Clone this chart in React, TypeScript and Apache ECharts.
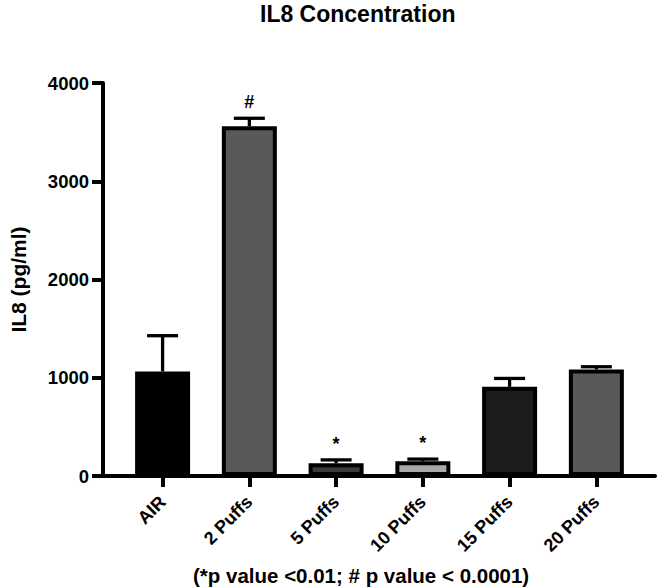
import React, { useEffect, useRef } from "react";
import * as echarts from "echarts";

const categories = ["AIR", "2 Puffs", "5 Puffs", "10 Puffs", "15 Puffs", "20 Puffs"];
const means = [1064, 3561, 130, 150, 908, 1085];
const errors = [364, 80, 34, 22, 85, 27];
const annotations = ["", "#", "*", "*", "", ""];
const barColors = ["#000000", "#595959", "#3a3a3a", "#a9a9a9", "#1c1c1c", "#595959"];
const yTicks = [0, 1000, 2000, 3000, 4000];

const FONT = "Liberation Sans, Arial, Helvetica, sans-serif";

export default function App() {
  const ref = useRef<HTMLDivElement>(null);
  useEffect(() => {
    if (!ref.current) return;
    const chart = echarts.init(ref.current, null, { renderer: "svg" });
    const idx = categories.map((_, i) => i);
    chart.setOption({
      animation: false,
      backgroundColor: "#ffffff",
      title: [
        {
          text: "IL8 Concentration",
          left: 255,
          top: -3,
          textStyle: { fontFamily: FONT, fontWeight: "bold", fontSize: 23, color: "#000" },
        },
        {
          text: "(*p value <0.01; # p value < 0.0001)",
          left: 188,
          top: 560,
          textStyle: { fontFamily: FONT, fontWeight: "bold", fontSize: 20.5, color: "#000" },
        },
      ],
      grid: { left: 90, right: 2, top: 83, bottom: 111, containLabel: false },
      xAxis: {
        type: "value",
        min: -0.687,
        max: 5.676,
        splitLine: { show: false },
        axisLine: { show: true, onZero: false, lineStyle: { color: "#000", width: 4 } },
        axisTick: { show: true, customValues: idx, length: 11, lineStyle: { color: "#000", width: 4 } },
        axisLabel: {
          customValues: idx,
          rotate: 45,
          margin: 23,
          formatter: (v: number) => categories[Math.round(v)] ?? "",
          fontFamily: FONT,
          fontWeight: "bold",
          fontSize: 18,
          color: "#000",
        },
      },
      yAxis: {
        type: "value",
        min: 0,
        max: 4000,
        interval: 1000,
        name: "IL8 (pg/ml)",
        nameLocation: "middle",
        nameRotate: 90,
        nameGap: 74,
        nameTextStyle: { fontFamily: FONT, fontWeight: "bold", fontSize: 21, color: "#000" },
        splitLine: { show: false },
        axisLine: { show: true, onZero: false, lineStyle: { color: "#000", width: 4 } },
        axisTick: { show: true, length: 11, lineStyle: { color: "#000", width: 4 } },
        axisLabel: {
          margin: 14,
          fontFamily: FONT,
          fontWeight: "bold",
          fontSize: 18.5,
          color: "#000",
          formatter: (v: number) => (yTicks.includes(v) ? String(v) : ""),
        },
      },
      series: [
        {
          type: "bar",
          barWidth: 55,
          data: means.map((m, i) => ({
            value: [i, m],
            itemStyle: { color: barColors[i], borderColor: "#000", borderWidth: 4 },
          })),
          z: 2,
        },
        {
          type: "custom",
          z: 3,
          data: means.map((m, i) => [i, m, m + errors[i]]),
          renderItem: (params: any, api: any) => {
            const x = api.value(0);
            const base = api.coord([x, api.value(1)]);
            const top = api.coord([x, api.value(2)]);
            const half = 15.5;
            const ann = annotations[params.dataIndex];
            const children: any[] = [
              {
                type: "line",
                shape: { x1: base[0], y1: base[1], x2: top[0], y2: top[1] },
                style: { stroke: "#000", lineWidth: 3.3 },
              },
              {
                type: "line",
                shape: { x1: top[0] - half, y1: top[1], x2: top[0] + half, y2: top[1] },
                style: { stroke: "#000", lineWidth: 3.3 },
              },
            ];
            if (ann) {
              children.push({
                type: "text",
                x: top[0],
                y: top[1] - 7,
                style: {
                  text: ann,
                  fill: "#000",
                  font: `bold 18px ${FONT}`,
                  textAlign: "center",
                  textVerticalAlign: "bottom",
                },
              });
            }
            return { type: "group", children };
          },
        },
      ],
    });
    return () => chart.dispose();
  }, []);
  return (
    <div
      ref={ref}
      style={{ position: "absolute", left: 0, top: 0, width: 657, height: 587 }}
    />
  );
}
